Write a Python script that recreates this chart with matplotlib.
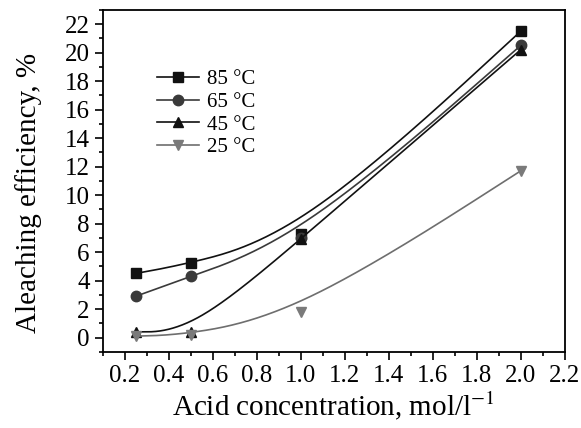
import numpy as np
import matplotlib.pyplot as plt
from matplotlib.ticker import MultipleLocator

plt.rcParams['font.family'] = ['Liberation Serif', 'DejaVu Serif']
plt.rcParams['mathtext.fontset'] = 'stix'

# Acid concentration (mol/l) and leaching efficiency (%) at each temperature
conc = np.array([0.25, 0.5, 1.0, 2.0])
eff_85 = np.array([4.5, 5.2, 7.3, 21.5])
eff_65 = np.array([2.9, 4.3, 7.0, 20.5])
eff_45 = np.array([0.4, 0.4, 6.9, 20.2])
eff_25 = np.array([0.1, 0.2, 1.8, 11.7])

series = [
    ("85 °C", eff_85, "s", "#111111", "#111111"),
    ("65 °C", eff_65, "o", "#3a3a3a", "#3a3a3a"),
    ("45 °C", eff_45, "^", "#111111", "#111111"),
    ("25 °C", eff_25, "v", "#6e6e6e", "#7a7a7a"),
]


def bspline3(px, py, n=100):
    # uniform cubic B-spline, end points tripled so the curve starts/ends on them
    px = np.r_[px[0], px[0], px, px[-1], px[-1]].astype(float)
    py = np.r_[py[0], py[0], py, py[-1], py[-1]].astype(float)
    t = np.linspace(0, 1, n)
    b0 = (1 - t) ** 3 / 6
    b1 = (3 * t ** 3 - 6 * t ** 2 + 4) / 6
    b2 = (-3 * t ** 3 + 3 * t ** 2 + 3 * t + 1) / 6
    b3 = t ** 3 / 6
    xs, ys = [], []
    for i in range(len(px) - 3):
        xs.append(b0 * px[i] + b1 * px[i + 1] + b2 * px[i + 2] + b3 * px[i + 3])
        ys.append(b0 * py[i] + b1 * py[i + 1] + b2 * py[i + 2] + b3 * py[i + 3])
    return np.concatenate(xs), np.concatenate(ys)


fig, ax = plt.subplots(figsize=(5.81, 4.28), dpi=100)
fig.subplots_adjust(left=0.177, right=0.972, top=0.977, bottom=0.178)

for label, y, marker, lc, mc in series:
    cx, cy = bspline3(conc, y)
    ax.plot(cx, cy, color=lc, lw=1.2)
    ax.plot(conc, y, linestyle="none", marker=marker, color=mc, ms=7.5)
    ax.plot([], [], color=lc, lw=1.2, marker=marker, mfc=mc, mec=mc, ms=7.5, label=label)

ax.set_xlim(0.1, 2.2)
ax.set_ylim(-1, 23)
ax.xaxis.set_major_locator(MultipleLocator(0.2))
ax.xaxis.set_minor_locator(MultipleLocator(0.1))
ax.yaxis.set_major_locator(MultipleLocator(2))
ax.yaxis.set_minor_locator(MultipleLocator(1))
ax.tick_params(which="both", direction="out", top=False, right=False,
               labelsize=18, width=1.2)
ax.tick_params(which="major", length=6)
ax.tick_params(which="minor", length=3)
for sp in ax.spines.values():
    sp.set_linewidth(1.3)

ax.set_xlabel("Acid concentration, mol/l$^{-1}$", fontsize=21, labelpad=2)
ax.set_ylabel("Aleaching efficiency, %", fontsize=21)
ax.yaxis.set_label_coords(-0.132, 0.465)

ax.legend(loc="upper left", bbox_to_anchor=(0.077, 0.88), frameon=False,
          fontsize=15, handlelength=2.0, labelspacing=0.15, handletextpad=0.4)

fig.savefig("out.png", dpi=100)
